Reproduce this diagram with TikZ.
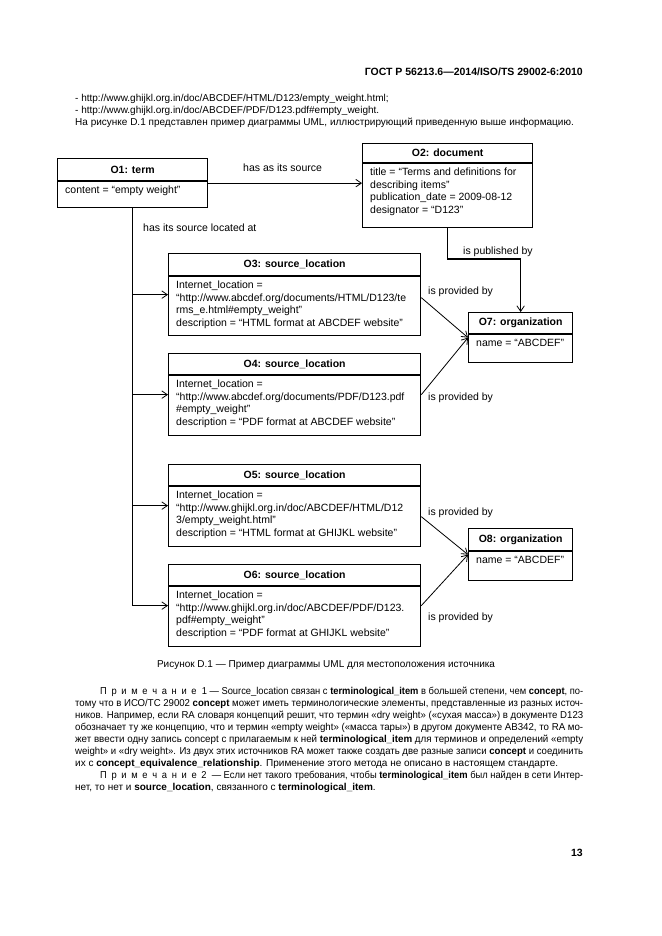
\documentclass[tikz,border=0pt]{standalone}
\usepackage{fontspec}
\usepackage{graphicx}
\setmainfont{Liberation Sans}
\usetikzlibrary{arrows.meta,calc}
\newcommand\dfont{\fontsize{10.5}{12.5}\selectfont}
\newcommand\pfont{\fontsize{10}{12}\selectfont}
\newcommand\ls{\kern5pt}
\newlength\jlw
\newcommand\jl[2]{\settowidth\jlw{#2}\ifdim\jlw>#1\relax\pgfmathsetmacro\jlr{#1/\jlw}\scalebox{\jlr}[1]{#2}\else\makebox[#1][s]{#2}\fi}
\newcommand\umlbox[8]{%
 \node[box, minimum width=#4pt, minimum height=#5pt] (#1) at (#2,#3) {};
 \draw[bline] ($(#1.north west)+(0,#6)$) -- ($(#1.north east)+(0,#6)$);
 \node[ttl] (#1t) at ($(#1.north)+(0,#6/2)$) {#7};
 \node[bdy] (#1b) at ($(#1.north west)+(8,#6+5)$) {#8};}
\begin{document}
\begin{tikzpicture}[x=1pt,y=-1pt,
 box/.style={draw, line width=1.3pt, inner sep=0pt, anchor=north west},
 bline/.style={line width=1.3pt},
 ttl/.style={font=\dfont\bfseries, inner sep=0pt},
 bdy/.style={font=\dfont, align=left, inner sep=0pt, anchor=north west},
 conn/.style={line width=1.1pt},
 thin/.style={line width=0.8pt},
 tip/.style={-{Straight Barb[length=5.5pt,width=7.5pt,line width=0.8pt]}},
 lbl/.style={font=\dfont, inner sep=0pt, anchor=base west},
 ptxt/.style={font=\pfont, inner sep=0pt, anchor=base west}]
\path[use as bounding box, fill=white] (0,0) rectangle (661,936);

% page text
\node[font=\fontsize{10.5}{12}\selectfont\bfseries, inner sep=0pt, anchor=base east] (hdr) at (583,76) {ГОСТ Р 56213.6—2014/ISO/TS 29002-6:2010};
\node[ptxt] (t1) at (75,101.5) {- http://www.ghijkl.org.in/doc/ABCDEF/HTML/D123/empty\_weight.html;};
\node[ptxt] (t2) at (75,113.5) {- http://www.ghijkl.org.in/doc/ABCDEF/PDF/D123.pdf\#empty\_weight.};
\node[ptxt] (t3) at (75,125.5) {На рисунке D.1 представлен пример диаграммы UML, иллюстрирующий приведенную выше информацию.};

% boxes
\umlbox{o1}{57}{158}{150}{49}{23}{O1: term}{content = “empty weight”}
\umlbox{o2}{362}{143}{170}{84}{20}{O2: document}{title = “Terms and definitions for\\describing items”\\publication\_date = 2009-08-12\\designator = “D123”}
\umlbox{o3}{168}{253}{252}{82}{23}{O3: source\_location}{Internet\_location =\\“http://www.abcdef.org/documents/HTML/D123/te\\rms\_e.html\#empty\_weight”\\description = “HTML format at ABCDEF website”}
\umlbox{o4}{168}{353}{252}{82}{22}{O4: source\_location}{Internet\_location =\\“http://www.abcdef.org/documents/PDF/D123.pdf\\\#empty\_weight”\\description = “PDF format at ABCDEF website”}
\umlbox{o5}{168}{464}{252}{82}{22}{O5: source\_location}{Internet\_location =\\“http://www.ghijkl.org.in/doc/ABCDEF/HTML/D12\\3/empty\_weight.html”\\description = “HTML format at GHIJKL website”}
\umlbox{o6}{168}{564}{252}{82}{22}{O6: source\_location}{Internet\_location =\\“http://www.ghijkl.org.in/doc/ABCDEF/PDF/D123.\\pdf\#empty\_weight”\\description = “PDF format at GHIJKL website”}
\umlbox{o7}{468}{312}{104}{50}{22}{O7: organization}{name = “ABCDEF”}
\umlbox{o8}{468}{528}{104}{52}{23}{O8: organization}{name = “ABCDEF”}

% connectors
\draw[conn, tip] (o1.east) -- (o1.east -| o2.west);
\node[lbl] (l1) at (243,171.5) {has as its source};
\draw[conn, tip] (o2.south) |- ($(o7.north)+(0,-53)$) -- (o7.north);
\node[lbl] (l2) at (463,254.5) {is published by};
\draw[conn] (o1.south) -- (o1.south |- o6.west);
\node[lbl] (l3) at (143,231.5) {has its source located at};
\draw[thin, tip] (o1.south |- o3.west) -- (o3.west);
\draw[thin, tip] (o1.south |- o4.west) -- (o4.west);
\draw[thin, tip] (o1.south |- o5.west) -- (o5.west);
\draw[thin, tip] (o1.south |- o6.west) -- (o6.west);
\draw[thin, tip] ($(o3.east)+(0,3)$) -- (o7.west);
\draw[thin, tip] (o4.east) -- (o7.west);
\draw[thin, tip] ($(o5.east)+(0,11)$) -- (o8.west);
\draw[thin, tip] (o6.east) -- (o8.west);
\node[lbl] (p3) at (428,294.5) {is provided by};
\node[lbl] (p4) at (428,400.5) {is provided by};
\node[lbl] (p5) at (428,515.5) {is provided by};
\node[lbl] (p6) at (428,620.5) {is provided by};

% caption
\node[font=\pfont, inner sep=0pt, anchor=base] (cap) at (326,667.5) {Рисунок D.1 — Пример диаграммы UML для местоположения источника};

% notes
\node[ptxt] (n1) at (100,694) {\jl{483pt}{П\ls р\ls и\ls м\ls е\ls ч\ls а\ls н\ls и\ls е\ \ 1 — Source\_location связан с \textbf{terminological\_item} в большей степени, чем \textbf{concept}, по-}};
\node[ptxt] (n2) at (75,706) {\jl{508pt}{тому что в ИСО/ТС 29002 \textbf{concept} может иметь терминологические элементы, представленные из разных источ-}};
\node[ptxt] (n3) at (75,718) {\jl{508pt}{ников. Например, если RA словаря концепций решит, что термин «dry weight» («сухая масса») в документе D123}};
\node[ptxt] (n4) at (75,730) {\jl{508pt}{обозначает ту же концепцию, что и термин «empty weight» («масса тары») в другом документе AB342, то RA мо-}};
\node[ptxt] (n5) at (75,742) {\jl{508pt}{жет ввести одну запись concept с прилагаемым к ней \textbf{terminological\_item} для терминов и определений «empty}};
\node[ptxt] (n6) at (75,754) {\jl{508pt}{weight» и «dry weight». Из двух этих источников RA может также создать две разные записи \textbf{concept} и соединить}};
\node[ptxt] (n7) at (75,766) {их с \textbf{concept\_equivalence\_relationship}. Применение этого метода не описано в настоящем стандарте.};
\node[ptxt] (n8) at (100,778) {\jl{483pt}{П\ls р\ls и\ls м\ls е\ls ч\ls а\ls н\ls и\ls е\ls 2\ \ — Если нет такого требования, чтобы \textbf{terminological\_item} был найден в сети Интер-}};
\node[ptxt] (n9) at (75,790) {нет, то нет и \textbf{source\_location}, связанного с \textbf{terminological\_item}.};

\node[font=\fontsize{10.5}{12}\selectfont\bfseries, inner sep=0pt, anchor=base east] (pg) at (583,856) {13};
\end{tikzpicture}
\end{document}
